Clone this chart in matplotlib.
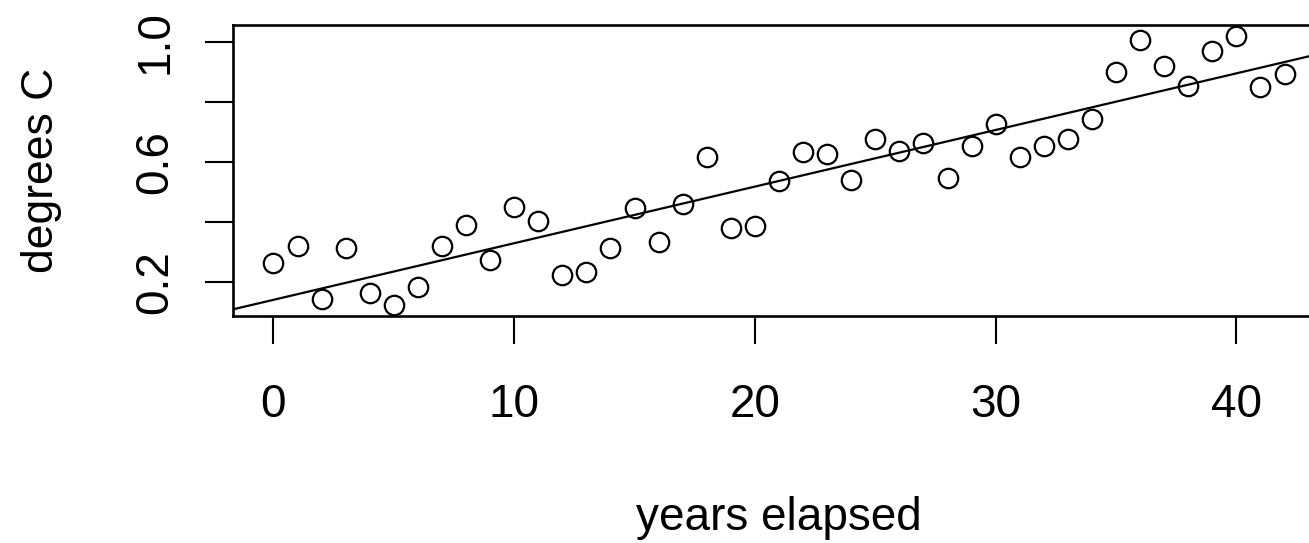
import numpy as np
import matplotlib.pyplot as plt

plt.rcParams['font.family'] = ['Liberation Sans', 'DejaVu Sans']

# data
years = list(range(43))
temps = [0.263, 0.320, 0.143, 0.313, 0.163, 0.123, 0.183, 0.320, 0.390, 0.273,
         0.450, 0.403, 0.223, 0.233, 0.313, 0.447, 0.333, 0.460, 0.617, 0.380,
         0.387, 0.537, 0.633, 0.627, 0.540, 0.677, 0.637, 0.663, 0.547, 0.653,
         0.727, 0.617, 0.653, 0.677, 0.743, 0.900, 1.007, 0.920, 0.853, 0.970,
         1.020, 0.850, 0.893]
xticks = [0, 10, 20, 30, 40]
yticks = [0.2, 0.4, 0.6, 0.8, 1.0]
ytick_labels = ['0.2', '', '0.6', '', '1.0']

W, H = 1309, 543
fig = plt.figure(figsize=(W / 100, H / 100), dpi=100)
# axes box in pixels: left 233, top 25, bottom 316, right ~1325 (cropped off)
ax = fig.add_axes([233 / W, 1 - 316 / H, (1325 - 233) / W, (316 - 25) / H])

ax.plot(years, temps, 'o', mfc='none', mec='black', ms=14, mew=1.6)

# least squares line, like abline(lm(...)) in R
slope, intercept = np.polyfit(years, temps, 1)
ax.axline((0, intercept), slope=slope, color='black', lw=1.6)

# R style 4% padding
xr = max(years) - min(years)
yr = max(temps) - min(temps)
ax.set_xlim(min(years) - 0.04 * xr, max(years) + 0.04 * xr)
ax.set_ylim(min(temps) - 0.04 * yr, max(temps) + 0.04 * yr)

ax.set_xticks(xticks)
ax.set_yticks(yticks)
ax.set_yticklabels(ytick_labels, rotation=90, va='center')
ax.tick_params(axis='both', direction='out', length=20, width=1.5,
               labelsize=33, colors='black')
ax.tick_params(axis='x', pad=28)
ax.tick_params(axis='y', pad=20)

for s in ax.spines.values():
    s.set_linewidth(1.9)

ax.set_xlabel('years elapsed', fontsize=33, va='baseline')
ax.xaxis.set_label_coords(0.5, (316 - 530) / 291)
ax.set_ylabel('degrees C', fontsize=32, va='baseline')
ax.yaxis.set_label_coords((53 - 233) / 1092, 0.5)

fig.savefig('out.png', dpi=100)
